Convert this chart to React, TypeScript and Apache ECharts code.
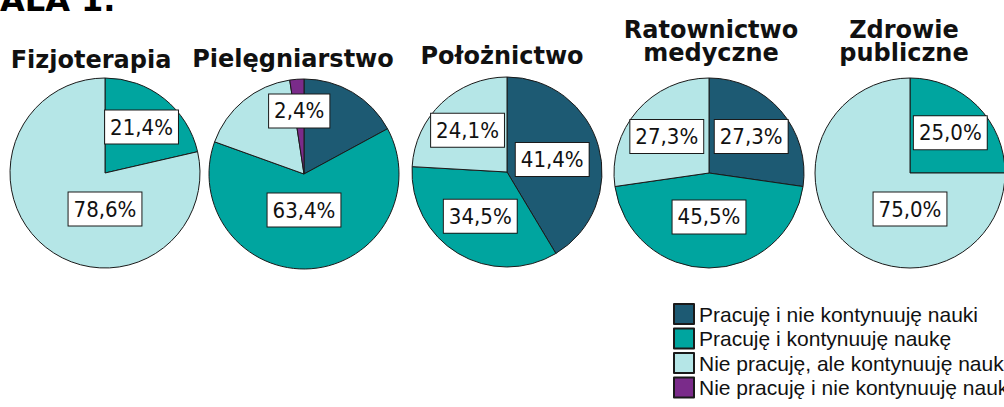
import React, { useEffect, useRef } from "react";
import * as echarts from "echarts";

// ---------- data ----------
const categories = [
  "Pracuję i nie kontynuuję nauki",
  "Pracuję i kontynuuję naukę",
  "Nie pracuję, ale kontynuuję naukę",
  "Nie pracuję i nie kontynuuję nauki",
];
const pieTitles = [
  "Fizjoterapia",
  "Pielęgniarstwo",
  "Położnictwo",
  "Ratownictwo\nmedyczne",
  "Zdrowie\npubliczne",
];
const fizjoterapia = [0, 21.4, 78.6, 0];
const pielegniarstwo = [17.1, 63.4, 17.1, 2.4];
const poloznictwo = [41.4, 34.5, 24.1, 0];
const ratownictwo = [27.3, 45.5, 27.3, 0];
const zdrowiePubliczne = [0, 25.0, 75.0, 0];
// category indices whose percentage is not printed in the original
const unlabelled = [[], [0, 2], [], [], []];
const headerText = "ALA 1.";

// ---------- styles / layout ----------
const colors = ["#1d5a73", "#00a59f", "#b5e6e7", "#7a2b8a"];
const pieValues = [fizjoterapia, pielegniarstwo, poloznictwo, ratownictwo, zdrowiePubliczne];
const centers = [
  [105, 173],
  [304, 174],
  [507, 172],
  [709, 173],
  [910, 173],
];
const radiusPx = 95;
const titleX = [91, 293, 502, 711, 904];
const titleY = [48, 47, 44, 18, 18];

const fmt = (v: number) => v.toFixed(1).replace(".", ",") + "%";

function labelPositions(values: number[], cx: number, cy: number, r: number) {
  const total = values.reduce((a, b) => a + b, 0);
  const out: number[][] = [];
  let acc = 0;
  values.forEach((v) => {
    if (v <= 0) return;
    const share = v / total;
    const half = share * Math.PI;
    const mid = (acc / total) * 2 * Math.PI + half;
    const centroid = (2 * r * Math.sin(half)) / (3 * half);
    const d = Math.max(centroid, 36);
    const ang = share > 0.5 ? Math.PI : mid;
    out.push([cx + d * Math.sin(ang), cy - d * Math.cos(ang)]);
    acc += v;
  });
  return out;
}

export default function App() {
  const ref = useRef<HTMLDivElement>(null);
  useEffect(() => {
    if (!ref.current) return;
    const chart = echarts.init(ref.current, null, { renderer: "svg" });
    const positions = pieValues.map((vals, i) =>
      labelPositions(vals, centers[i][0], centers[i][1], radiusPx)
    );
    const series = pieValues.map((vals, si) => ({
      type: "pie",
      center: centers[si],
      radius: [0, radiusPx],
      startAngle: 90,
      clockwise: true,
      avoidLabelOverlap: false,
      silent: true,
      emphasis: { disabled: true },
      labelLine: { show: false },
      itemStyle: { borderColor: "#1a1a1a", borderWidth: 1 },
      label: {
        show: true,
        position: "inside",
        formatter: (p: any) => fmt(p.value),
        fontFamily: "'Liberation Sans Narrow', 'DejaVu Sans Condensed', 'Liberation Sans', sans-serif",
        fontSize: 22,
        lineHeight: 23,
        color: "#111",
        backgroundColor: "#ffffff",
        borderColor: "#1a1a1a",
        borderWidth: 1,
        padding: [5, 5, 5, 5],
      },
      labelLayout: (p: any) => {
        const pos = positions[si][p.dataIndex];
        return pos ? { x: pos[0], y: pos[1] } : {};
      },
      data: vals
        .map((v, ci) => ({
          name: categories[ci],
          value: v,
          itemStyle: { color: colors[ci] },
          label: (unlabelled[si] as number[]).includes(ci) ? { show: false } : undefined,
        }))
        .filter((d) => d.value > 0),
    }));

    chart.setOption({
      animation: false,
      backgroundColor: "#ffffff",
      title: pieTitles.map((t, i) => ({
        text: t,
        left: titleX[i],
        top: titleY[i],
        textAlign: "center",
        padding: 0,
        textStyle: {
          fontFamily: "'DejaVu Sans', sans-serif",
          fontWeight: "bold",
          fontSize: 24,
          lineHeight: 23,
          color: "#111",
        },
      })),
      legend: {
        orient: "vertical",
        left: 673,
        top: 303,
        padding: 0,
        itemWidth: 20,
        itemHeight: 20,
        itemGap: 2.5,
        icon: "rect",
        selectedMode: false,
        data: categories,
        textStyle: {
          fontFamily: "'Liberation Sans', Arial, sans-serif",
          fontSize: 21,
          lineHeight: 21,
          color: "#111",
        },
      },
      graphic: [
        {
          type: "text",
          x: 0,
          y: 0,
          style: {
            text: headerText,
            font: "bold 32px 'DejaVu Sans', sans-serif",
            fill: "#000",
            verticalAlign: "middle",
          },
        },
      ],
      series,
    });
    return () => chart.dispose();
  }, []);
  return (
    <div
      ref={ref}
      style={{ position: "absolute", left: 0, top: 0, width: 1004, height: 407 }}
    />
  );
}
